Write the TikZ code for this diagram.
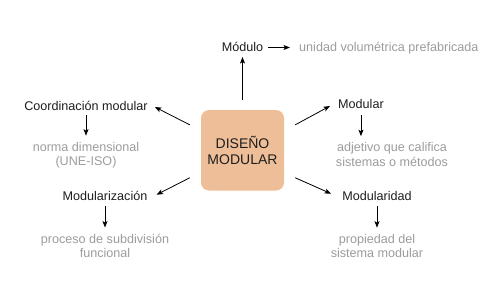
\documentclass[tikz,border=0pt]{standalone}
\usepackage{fontspec}
\setmainfont{Liberation Sans}
\usetikzlibrary{arrows.meta,calc}
\definecolor{peach}{HTML}{EEBE98}
\definecolor{graytxt}{HTML}{9C9C9C}
\definecolor{darktxt}{HTML}{1E1E1E}
\begin{document}
\begin{tikzpicture}[x=1pt,y=-1pt,
  term/.style={inner sep=0pt,anchor=base,text=darktxt,font=\fontsize{12.6}{14}\selectfont},
  desc/.style={inner sep=0pt,anchor=base,text=graytxt,align=center,font=\fontsize{12.6}{14.5}\selectfont},
  arr/.style={-{Stealth[length=6.5pt,width=5pt,inset=1.5pt]},line width=0.8pt,draw=black}]
\useasboundingbox (0,0) rectangle (485,300);
\node[fill=peach,rounded corners=8pt,minimum width=83pt,minimum height=80.5pt,inner sep=0pt,
  align=center,text=darktxt,font=\fontsize{14}{15.4}\selectfont] (box) at (242.5,150.3) {DISEÑO\\MODULAR};
\node[term] (modulo) at (242.5,51) {Módulo};
\node[desc,anchor=base west] (unidad) at (299,51) {unidad volumétrica prefabricada};
\node[term,anchor=base west] (modular) at (338,108) {Modular};
\node[desc] (adj) at (392,166) {adjetivo que califica\\sistemas o métodos};
\node[term] (coord) at (86,110) {Coordinación modular};
\node[desc] (norma) at (86,165.5) {norma dimensional\\(UNE-ISO)};
\node[term] (modz) at (105,200.7) {Modularización};
\node[desc] (proc) at (105,257.5) {proceso de subdivisión\\funcional};
\node[term] (modd) at (377,200.7) {Modularidad};
\node[desc] (prop) at (377,257.5) {propiedad del\\sistema modular};
% connectors
\draw[arr] ($(box.north)+(0,-10)$) -- ($(modulo.base)+(0,6)$);
\draw[arr] ($(modulo.base east)+(5,-3.5)$) -- ($(unidad.base west)+(-9,-3.5)$);
\draw[arr] ($(box.north east)+(11,15)$) -- ($(modular.base west)+(-8,-2)$);
\draw[arr] ($(box.north west)+(-11,15)$) -- ($(coord.base east)+(7,-3)$);
\draw[arr] ($(box.south west)+(-11,-13)$) -- ($(modz.base east)+(9,-6)$);
\draw[arr] ($(box.south east)+(11,-13)$) -- ($(modd.base west)+(-11,-7)$);
\draw[arr] ($(coord.base)+(0,5)$) -- ($(norma.north)+(0,-6)$);
\draw[arr] ($(modular.base)+(0,7)$) -- ($(modular.base |- adj.north)+(0,-6)$);
\draw[arr] ($(modz.base)+(0,5.5)$) -- ($(proc.north)+(0,-6)$);
\draw[arr] ($(modd.base)+(0,5.5)$) -- ($(prop.north)+(0,-6)$);
\end{tikzpicture}
\end{document}
